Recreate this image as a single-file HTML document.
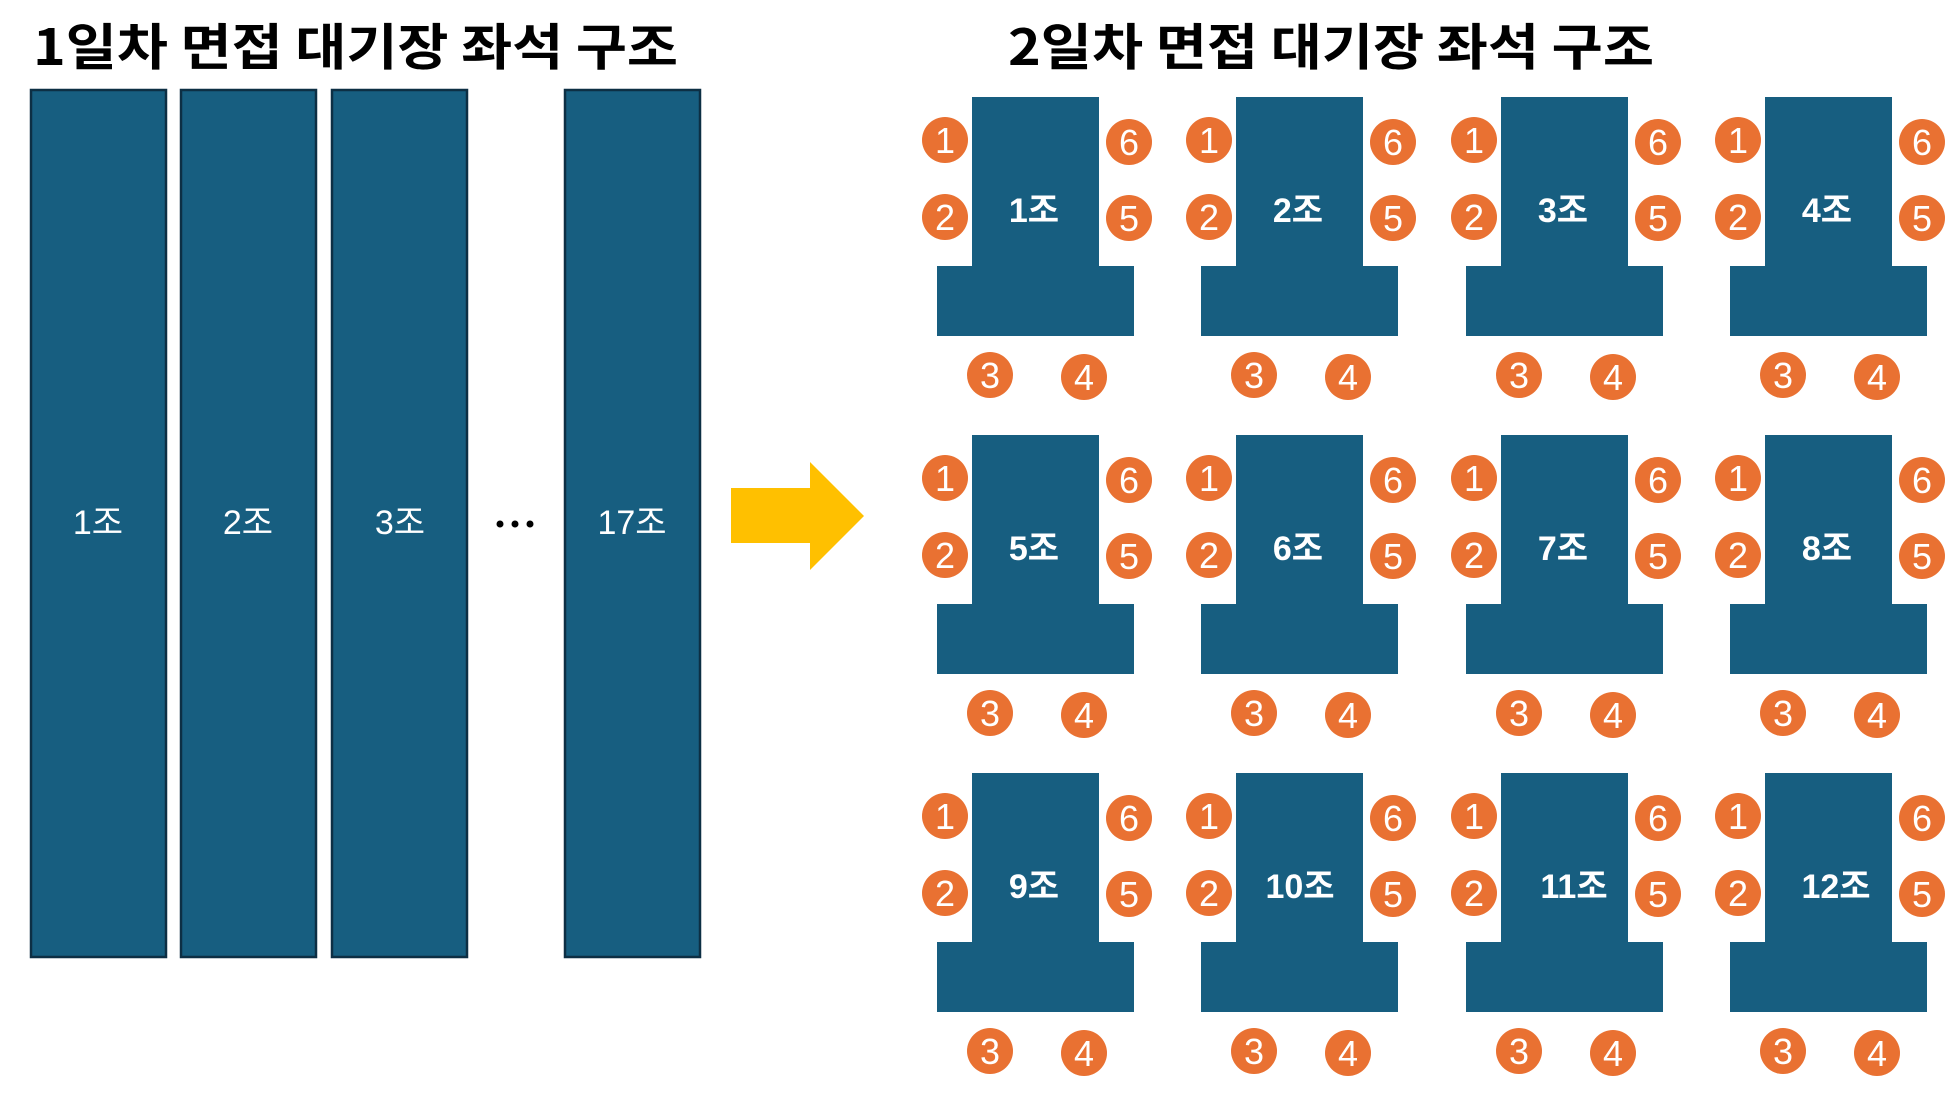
<!DOCTYPE html>
<html><head><meta charset="utf-8"><style>
html,body{margin:0;padding:0;background:#fff;}
svg{display:block;}
text{font-family:"Liberation Sans","Noto Sans CJK KR",sans-serif;}
</style></head><body>
<svg width="1957" height="1098" viewBox="0 0 1957 1098" xmlns="http://www.w3.org/2000/svg">
<text x="33" y="65" font-size="50" font-weight="bold" fill="#000" textLength="645" lengthAdjust="spacingAndGlyphs" style='font-family:"Noto Sans CJK KR",sans-serif'>1일차 면접 대기장 좌석 구조</text>
<text x="1008" y="65" font-size="50" font-weight="bold" fill="#000" textLength="646" lengthAdjust="spacingAndGlyphs" style='font-family:"Noto Sans CJK KR",sans-serif'>2일차 면접 대기장 좌석 구조</text>
<g fill="#175e80" stroke="#0d2f44" stroke-width="2.5">
<rect x="31" y="90" width="135" height="867"/>
<rect x="181" y="90" width="135" height="867"/>
<rect x="332" y="90" width="135" height="867"/>
<rect x="565" y="90" width="135" height="867"/>
</g>
<g fill="#fff" font-size="34" text-anchor="middle" style='font-family:"Noto Sans CJK KR",sans-serif'>
<text x="98" y="534">1조</text>
<text x="248" y="534">2조</text>
<text x="400" y="534">3조</text>
<text x="632" y="534">17조</text>
</g>
<g fill="#000"><circle cx="500" cy="524" r="3.5"/><circle cx="515" cy="524" r="3.5"/><circle cx="530" cy="524" r="3.5"/></g>
<polygon points="731,488 810,488 810,462 864,516 810,570 810,543 731,543" fill="#ffc000"/>
<defs>
<g id="t">
<rect x="972" y="97" width="127" height="170" fill="#175e80"/>
<rect x="937" y="266" width="197" height="70" fill="#175e80"/>
<g fill="#e97132">
<circle cx="945" cy="140" r="23"/><circle cx="945" cy="217" r="23"/>
<circle cx="1129" cy="142" r="23"/><circle cx="1129" cy="218" r="23"/>
<circle cx="990" cy="375" r="23"/><circle cx="1084" cy="377" r="23"/>
</g>
<g fill="#fff" font-size="36" text-anchor="middle" style='font-family:"Noto Sans CJK KR",sans-serif'>
<text x="945" y="153">1</text><text x="945" y="230">2</text>
<text x="1129" y="155">6</text><text x="1129" y="231">5</text>
<text x="990" y="388">3</text><text x="1084" y="390">4</text>
</g>
</g>
</defs>
<g id="grid">
<use href="#t" x="0" y="0"/><use href="#t" x="264" y="0"/><use href="#t" x="529" y="0"/><use href="#t" x="793" y="0"/>
<use href="#t" x="0" y="338"/><use href="#t" x="264" y="338"/><use href="#t" x="529" y="338"/><use href="#t" x="793" y="338"/>
<use href="#t" x="0" y="676"/><use href="#t" x="264" y="676"/><use href="#t" x="529" y="676"/><use href="#t" x="793" y="676"/>
</g>
<g fill="#fff" font-size="34" font-weight="bold" text-anchor="middle" style='font-family:"Noto Sans CJK KR",sans-serif'>
<text x="1034" y="222">1조</text><text x="1298" y="222">2조</text><text x="1563" y="222">3조</text><text x="1827" y="222">4조</text>
<text x="1034" y="560">5조</text><text x="1298" y="560">6조</text><text x="1563" y="560">7조</text><text x="1827" y="560">8조</text>
<text x="1034" y="898">9조</text><text x="1300" y="898">10조</text><text x="1574" y="898">11조</text><text x="1836" y="898">12조</text>
</g>
</svg>
</body></html>
